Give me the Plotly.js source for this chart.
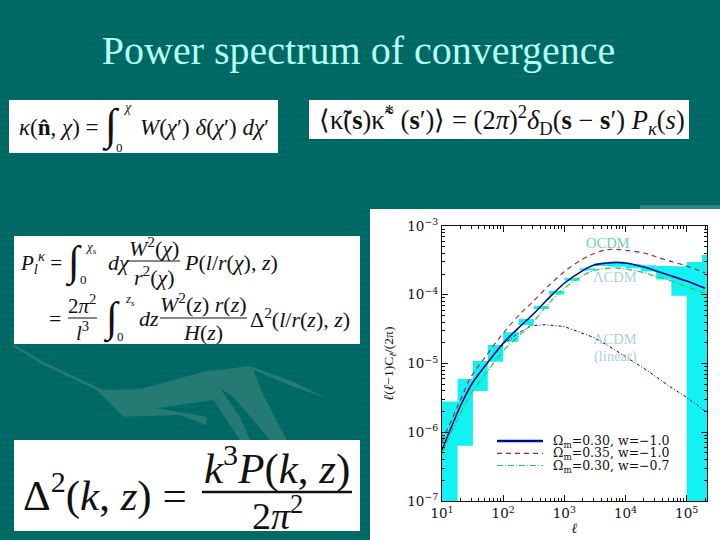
<!DOCTYPE html>
<html><head><meta charset="utf-8">
<script src="https://cdn.plot.ly/plotly-3.0.1.min.js"></script>
<style>html,body{margin:0;padding:0;background:#006b66;background-image:repeating-linear-gradient(0deg,#006b67 0,#006b67 3px,#006661 3px,#006661 6px)}#c{width:720px;height:540px}</style>
</head><body><div id="c"></div>
<script>
// ---- data ----
const ell = [10,20,30,50,100,200,300,500,1000,2000,3000,5000,7000,10000,20000,30000,50000,100000,200000];
const lcdm = [5.52e-7,2.41e-6,4.87e-6,9.1e-6,1.97e-5,3.63e-5,5.07e-5,8.11e-5,1.47e-4,2.24e-4,2.68e-4,2.90e-4,2.96e-4,2.90e-4,2.53e-4,2.26e-4,1.94e-4,1.58e-4,1.24e-4];
const om35 = [7.3e-7,2.94e-6,6.43e-6,1.22e-5,2.75e-5,5.55e-5,7.76e-5,1.24e-4,2.17e-4,3.31e-4,3.96e-4,4.53e-4,4.58e-4,4.43e-4,4.05e-4,3.62e-4,3.13e-4,2.62e-4,2.07e-4];
const w07 = [4.93e-7,1.88e-6,3.68e-6,6.8e-6,1.52e-5,2.75e-5,3.84e-5,6.71e-5,1.24e-4,1.9e-4,2.24e-4,2.42e-4,2.45e-4,2.37e-4,2.09e-4,1.87e-4,1.64e-4,1.31e-4,1.05e-4];
const linear = [5.52e-7,2.41e-6,4.87e-6,9.1e-6,1.9e-5,2.97e-5,3.55e-5,3.67e-5,3.44e-5,2.75e-5,2.4e-5,1.86e-5,1.54e-5,1.29e-5,8.5e-6,6.65e-6,4.76e-6,3.22e-6,2.04e-6];
const binEdges = [10,18,32,56,100,178,316,562,1000,1778,3162,5623,10000,17783,31623,56234,100000,177828,215000];
const binTop = [2.79e-6,5.96e-6,1.09e-5,1.86e-5,2.84e-5,4.44e-5,6.86e-5,1.13e-4,1.75e-4,2.42e-4,2.86e-4,2.96e-4,2.8e-4,2.68e-4,2.62e-4,2.59e-4,2.99e-4,3.79e-4];
const binBottom = [5e-8,6.38e-7,3.98e-6,1.06e-5,2.08e-5,3.63e-5,6.2e-5,1.01e-4,1.6e-4,2.26e-4,2.62e-4,2.56e-4,2.42e-4,2.17e-4,1.66e-4,9.7e-5,5e-8,5e-8];
const xTickVals = [10,100,1000,10000,100000];
const xTickText = ['10<sup>1</sup>','10<sup>2</sup>','10<sup>3</sup>','10<sup>4</sup>','10<sup>5</sup>'];
const yTickVals = [1e-7,1e-6,1e-5,1e-4,1e-3];
const yTickText = ['10<sup>−7</sup>','10<sup>−6</sup>','10<sup>−5</sup>','10<sup>−4</sup>','10<sup>−3</sup>'];
const minorMult = [2,3,4,5,6,7,8,9];
const seriesNames = ['Ω<sub>m</sub>=0.30, w=−1.0','Ω<sub>m</sub>=0.35, w=−1.0','Ω<sub>m</sub>=0.30, w=−0.7'];
const seriesColors = ['#000c86','#a82030','#2ccf4c'];
const seriesDash = ['solid','5px,4px','6px,2px,1px,2px'];
const titleText = 'Power spectrum of convergence';

// ---- helpers: page pixels to plot-area fractions ----
const W=720,H=540,L=442,R=13,TOP=226,B=39,PW=W-L-R,PH=H-TOP-B;
const px=x=>(x-L)/PW, py=y=>1-(y-TOP)/PH;
const SERIF='"Liberation Serif","Times New Roman",serif';
const anns=[];
function T(text,x,y,size,anchor,color,font){anns.push({text,x:px(x),y:py(y),xref:'paper',yref:'paper',xanchor:anchor||'center',yanchor:'middle',showarrow:false,align:'center',font:{family:font||SERIF,size,color:color||'#111'}});}
const shapes=[];
function box(x0,y0,x1,y1,c){shapes.push({type:'rect',xref:'paper',yref:'paper',x0:px(x0),x1:px(x1),y0:py(y0),y1:py(y1),fillcolor:c||'#fff',line:{width:0},layer:'below'});}
function bar(x0,x1,y,w,c,d){shapes.push({type:'line',xref:'paper',yref:'paper',x0:px(x0),x1:px(x1),y0:py(y),y1:py(y),line:{color:c||'#111',width:w||1,dash:d||'solid'},layer:'above'});}
function poly(pts,c){const d=pts.map((p,i)=>(i?'L':'M')+px(p[0]/3)+','+py(340+p[1]/3)).join(' ')+' Z';shapes.push({type:'path',xref:'paper',yref:'paper',path:d,fillcolor:c,line:{width:0},layer:'below'});}

// background artwork
poly([[40,12],[130,65],[310,150],[420,148],[610,95],[750,78],[880,125],[980,175],[880,140],[760,90],[790,165],[860,300],[810,300],[700,170],[660,145],[720,230],[750,300],[720,300],[640,180],[470,205],[620,230],[620,255],[540,225],[370,230],[330,190],[290,150],[130,75],[40,20]],'#257a74');
// panels
box(640,205,720,209,'#2a8580');
box(9,100,278,153);box(309,100,689,139);box(14,236,360,344);box(14,440,360,531);box(370,209,720,540);

// formula 1
T('<i>κ</i>(<b>n̂</b>, <i>χ</i>) =',17,127,23,'left');
T('∫',111,126,44);T('<i>χ</i>',127,107,14);T('0',119,147,13);
T('<i>W</i>(<i>χ</i>′) <i>δ</i>(<i>χ</i>′) <i>dχ</i>′',138,127,23,'left');
// formula 2
T('⟨κ̃(<b>s</b>)κ̃<sup>*</sup> (<b>s</b>′)⟩ = (2<i>π</i>)<sup>2</sup><i>δ</i><sub>D</sub>(<b>s</b> − <b>s</b>′) <i>P<sub>κ</sub></i>(<i>s</i>)',317,120,26.5,'left');
// formula 3
T('<i>P<sub>l</sub><sup>κ</sup></i> =',18,262,21,'left');
T('∫',73,262,42);T('<i>χ<sub>s</sub></i>',91,247,13);T('0',83,279,13);
T('<i>dχ</i>',106,262,22,'left');
T('<i>W</i><sup>2</sup>(<i>χ</i>)',154,247,22);bar(128,180,261);T('<i>r</i><sup>2</sup>(<i>χ</i>)',154,276,22);
T('<i>P</i>(<i>l</i>/<i>r</i>(<i>χ</i>), <i>z</i>)',182,262,22,'left');
T('=',55,318,22);
T('2<i>π</i><sup>2</sup>',82,304,21);bar(68,97,318);T('<i>l</i><sup>3</sup>',82,331,21);
T('∫',111,318,42);T('<i>z<sub>s</sub></i>',130,299,13);T('0',120,336,13);
T('<i>dz</i>',137,318,22,'left');
T('<i>W</i><sup>2</sup>(<i>z</i>) <i>r</i>(<i>z</i>)',203,303,22);bar(160,247,318);T('<i>H</i>(<i>z</i>)',203,332,22);
T('Δ<sup>2</sup>(<i>l</i>/<i>r</i>(<i>z</i>), <i>z</i>)',248,318,22,'left');
// formula 4
T('Δ<sup>2</sup>(<i>k</i>, <i>z</i>) =',21,492,43,'left');
T('<i>k</i><sup>3</sup><i>P</i>(<i>k</i>, <i>z</i>)',277,465,43);bar(202,352,492,2.5);T('2<i>π</i><sup>2</sup>',277,513,38);
// curve labels
T('OCDM',608,243,14.5,'center','#6fd0b4');
T('ΛCDM',615,277,14.5,'center','#a9d3d8');
T('ΛCDM',615,339,14.5,'center','#a9d3d8');
T('(linear)',615,356,14.5,'center','#a9d3d8');
// key drawn by hand: the built-in legend cannot pack its rows this tightly
[441,453.3,465.5].forEach((y,i)=>{bar(497,543,y,i?1.2:2.5,seriesColors[i],seriesDash[i]);T(seriesNames[i],551,y+0.5,12.5,'left','#111','"DejaVu Serif",serif');});

// bands -> one filled trace with gaps
const bx=[],by=[];
binTop.forEach((t,i)=>{bx.push(binEdges[i],binEdges[i+1],binEdges[i+1],binEdges[i],binEdges[i],null);by.push(t,t,binBottom[i],binBottom[i],t,null);});
const minorX=[];for(let d=10;d<=100000;d*=10)minorMult.forEach(m=>{if(d*m<215000)minorX.push(d*m)});
const minorY=[];for(let d=1e-7;d<1e-3;d*=10)minorMult.forEach(m=>minorY.push(d*m));

const traces=[
 {x:bx,y:by,mode:'none',fill:'toself',fillcolor:'#12f2f2',showlegend:false,hoverinfo:'skip'},
 {x:ell,y:linear,mode:'lines',line:{color:'#000070',width:1,dash:'3px,2px,1px,2px'},showlegend:false},
 {x:ell,y:lcdm,mode:'lines',name:'Ωm=0.30, w=-1.0',showlegend:false,line:{color:seriesColors[0],width:1.6,shape:'spline'}},
 {x:ell,y:om35,mode:'lines',name:'Ωm=0.35, w=-1.0',showlegend:false,line:{color:seriesColors[1],width:1.1,dash:seriesDash[1],shape:'spline'}},
 {x:ell,y:w07,mode:'lines',name:'Ωm=0.30, w=-0.7',showlegend:false,line:{color:seriesColors[2],width:1.3,dash:seriesDash[2],shape:'spline'}}
];
const axCommon={type:'log',showgrid:false,zeroline:false,showline:true,linecolor:'#111',linewidth:1,mirror:'ticks',ticks:'inside',ticklen:6,tickcolor:'#111',tickwidth:1,tickmode:'array',tickfont:{family:'"DejaVu Serif",serif',size:13.5,color:'#111'}};
const layout={
 width:W,height:H,paper_bgcolor:'rgba(0,0,0,0)',plot_bgcolor:'rgba(0,0,0,0)',
 margin:{l:L,r:R,t:TOP,b:B,pad:0},
 title:{text:titleText,x:0.498,xanchor:'center',y:0.907,yanchor:'middle',font:{family:SERIF,size:40,color:'#b4fff6'}},
 xaxis:{...axCommon,range:[1,5.332],tickvals:xTickVals,ticktext:xTickText,
  minor:{tickmode:'array',tickvals:minorX,ticks:'inside',ticklen:3,tickcolor:'#111',showgrid:false},
  title:{text:'<i>ℓ</i>',standoff:0,font:{family:SERIF,size:14,color:'#111'}}},
 yaxis:{...axCommon,range:[-7,-3],tickvals:yTickVals,ticktext:yTickText,
  minor:{tickmode:'array',tickvals:minorY,ticks:'inside',ticklen:3,tickcolor:'#111',showgrid:false},
  title:{text:'<i>ℓ</i>(<i>ℓ</i>−1)C<sub><i>ℓ</i></sub>/(2π)',standoff:10,font:{family:SERIF,size:13.5,color:'#111'}}},
 showlegend:false,
 annotations:anns,shapes
};
Plotly.newPlot('c',traces,layout,{displayModeBar:false,responsive:false});
</script></body></html>
